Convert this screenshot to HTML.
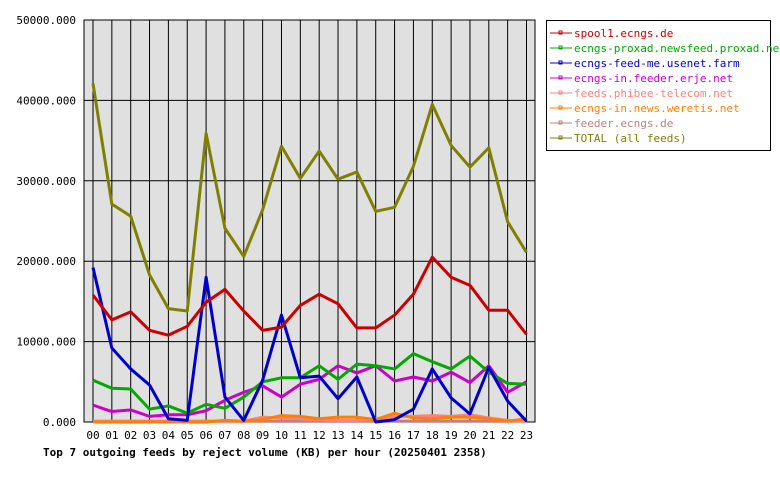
<!DOCTYPE html>
<html><head><meta charset="utf-8"><style>
body{margin:0;background:#fff}
svg text{font-family:"DejaVu Sans Mono","Liberation Mono",monospace;font-size:11px}
</style></head><body>
<svg id="c" width="780" height="480" xmlns="http://www.w3.org/2000/svg"></svg>
<script>
const hours=["00","01","02","03","04","05","06","07","08","09","10","11","12","13","14","15","16","17","18","19","20","21","22","23"];
const yTicks=[0,10000,20000,30000,40000,50000];
const seriesNames=["spool1.ecngs.de","ecngs-proxad.newsfeed.proxad.net","ecngs-feed-me.usenet.farm","ecngs-in.feeder.erje.net","feeds.phibee-telecom.net","ecngs-in.news.weretis.net","feeder.ecngs.de","TOTAL (all feeds)"];
const seriesColors=["#cc0000","#00aa00","#0000cc","#cc00cc","#ff8080","#ff8000","#c08080","#808000"];
const spool1=[15800,12700,13700,11400,10800,11900,14900,16500,13800,11400,11800,14500,15900,14700,11700,11700,13300,15900,20500,18000,17000,13900,13900,10900];
const proxad=[5200,4200,4100,1600,2000,1100,2200,1700,3100,5000,5500,5500,7000,5300,7200,7000,6600,8500,7500,6600,8200,6200,4800,4700];
const usenetFarm=[19200,9200,6600,4600,400,200,18000,3100,200,5200,13300,5500,5700,2900,5600,0,300,1600,6600,3000,1000,6800,2600,100];
const erje=[2100,1300,1500,700,900,900,1400,2700,3700,4500,3100,4700,5300,7000,6100,7000,5100,5600,5100,6200,4900,7000,3700,5000];
const phibee=[100,100,100,100,100,100,100,100,100,600,500,400,300,200,200,400,700,700,800,700,900,500,200,100];
const weretis=[0,0,0,0,0,0,0,200,100,300,800,700,400,600,600,300,1100,500,400,600,600,400,100,400];
const feederEcngs=[100,100,100,100,100,100,100,100,100,100,100,100,100,100,100,100,100,100,100,100,100,100,100,100];
const total=[42100,27100,25600,18300,14100,13800,35900,24100,20600,26400,34300,30300,33700,30200,31100,26200,26700,31800,39500,34400,31700,34100,24900,21100];
const seriesData=[spool1,proxad,usenetFarm,erje,phibee,weretis,feederEcngs,total];

const svg=document.getElementById('c');
const NS='http://www.w3.org/2000/svg';
const L=84,R=535,T=20,B=422,yMax=50000;
const xs=i=>93+i*(526.5-93)/(hours.length-1);
const ys=v=>B-(v/yMax)*(B-T);
function mk(tag,attrs){const e=document.createElementNS(NS,tag);for(const k in attrs)e.setAttribute(k,attrs[k]);svg.appendChild(e);return e;}

const bg=mk('rect',{x:L,y:T,width:R-L,height:B-T,fill:'#e0e0e0',stroke:'#000'});


hours.forEach((h,i)=>{
  const g=mk('line',{x1:xs(i),x2:xs(i),y1:T,y2:B,stroke:'#000','stroke-width':1});
  
  
  const t=mk('text',{x:xs(i),y:439,'text-anchor':'middle'});t.textContent=h;
  
  
});
yTicks.forEach(v=>{
  const g=mk('line',{x1:L,x2:R,y1:ys(v),y2:ys(v),stroke:'#000','stroke-width':1});
  
  
  const t=mk('text',{x:76,y:ys(v)+4,'text-anchor':'end'});t.textContent=v.toFixed(3);
  
  
});
const order=[6,4,5,3,1,2,0,7];
order.forEach(s=>{
  const p=mk('polyline',{points:seriesData[s].map((v,i)=>xs(i)+','+ys(v)).join(' '),fill:'none',stroke:seriesColors[s],'stroke-width':3,'stroke-linejoin':'round'});
  
  
});
const title=mk('text',{x:43,y:456,'font-weight':'bold'});title.textContent='Top 7 outgoing feeds by reject volume (KB) per hour (20250401 2358)';


const lb=mk('rect',{x:546.5,y:20.5,width:224,height:130,fill:'#fff',stroke:'#000'});


seriesNames.forEach((n,i)=>{
  const y=33+i*15;
  const l=mk('line',{x1:550,x2:572,y1:y,y2:y,stroke:seriesColors[i],'stroke-width':1});
  
  
  mk('rect',{x:559,y:y-2,width:3,height:3,fill:'none',stroke:seriesColors[i],'stroke-width':1});
  const t=mk('text',{x:574,y:y+4,fill:seriesColors[i]});t.textContent=n;
  
  
});
</script>
</body></html>
